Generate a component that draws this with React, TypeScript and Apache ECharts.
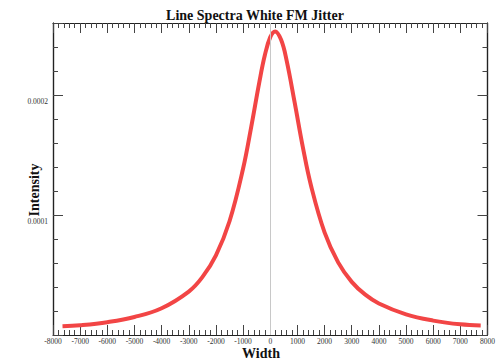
import React, { useEffect, useRef } from "react";
import * as echarts from "echarts";

const titleText = "Line Spectra White FM Jitter";
const xName = "Width";
const yName = "Intensity";

const widths = [
  -7650, -7000, -6000, -5000, -4000, -3000, -2500, -2000, -1500, -1000, -700, -400, -200, 0,
  180, 400, 600, 900, 1200, 1500, 2000, 2500, 3000, 3500, 4000, 5000, 6000, 7000, 7750,
];
const intensity = [
  0.0000072, 0.0000081, 0.0000107, 0.000015, 0.0000223, 0.0000362, 0.0000482, 0.0000664,
  0.0000948, 0.0001387, 0.0001735, 0.000211, 0.0002331, 0.0002482, 0.000253, 0.000246,
  0.0002291, 0.0001936, 0.0001566, 0.0001246, 0.0000855, 0.0000605, 0.0000443, 0.0000336,
  0.0000263, 0.0000172, 0.000012, 0.0000089, 0.000008,
];
const yLabels = ["0.0001", "0.0002"];

const X_MIN = -8000;
const X_MAX = 8000;
const Y_MIN = 0;
const Y_MAX = 0.00026;

export default function App() {
  const ref = useRef<HTMLDivElement>(null);
  useEffect(() => {
    if (!ref.current) return;
    const chart = echarts.init(ref.current, null, { renderer: "svg" });
    const axisColor = "#222";
    const serif = '"Liberation Serif", "DejaVu Serif", serif';
    const xAxisBase = (pos: "bottom" | "top", showLabel: boolean) => ({
      type: "value",
      position: pos,
      min: X_MIN,
      max: X_MAX,
      interval: 1000,
      axisLine: { show: true, onZero: false, lineStyle: { color: axisColor, width: 1.2 } },
      axisTick: { show: true, inside: true, length: 10, lineStyle: { color: "#444" } },
      minorTick: { show: true, splitNumber: 5, length: 5, lineStyle: { color: "#444" } },
      splitLine: { show: false },
      axisLabel: {
        show: showLabel,
        fontSize: 7.5,
        fontFamily: serif,
        color: "#333",
        margin: 2,
        showMinLabel: true,
        showMaxLabel: true,
        hideOverlap: false,
        formatter: (v: number) => String(Math.round(v)),
      },
    });
    const yAxisBase = (pos: "left" | "right", interval: number, len: number, showLabel: boolean) => ({
      type: "value",
      position: pos,
      min: Y_MIN,
      max: Y_MAX,
      interval,
      axisLine: { show: true, onZero: false, lineStyle: { color: axisColor, width: 1.2 } },
      axisTick: { show: true, inside: true, length: len, lineStyle: { color: "#444" } },
      splitLine: { show: false },
      axisLabel: {
        show: showLabel,
        fontSize: 7.5,
        fontFamily: serif,
        color: "#333",
        margin: 5,
        verticalAlign: "top",
        padding: [2, 0, 0, 0],
        formatter: (v: number) => {
          const s = v.toFixed(4);
          return yLabels.includes(s) && Math.abs(v - parseFloat(s)) < 1e-9 ? s : "";
        },
      },
    });
    chart.setOption({
      animation: false,
      backgroundColor: "#ffffff",
      grid: { left: 53, right: 5, top: 23, bottom: 28, containLabel: false },
      xAxis: [xAxisBase("bottom", true), xAxisBase("top", false)],
      yAxis: [
        yAxisBase("left", 0.00002, 5, false),
        yAxisBase("left", 0.0001, 10, true),
        yAxisBase("right", 0.00002, 5, false),
        yAxisBase("right", 0.0001, 10, false),
      ],
      graphic: [
        {
          type: "text",
          x: 255,
          y: 15,
          style: {
            text: titleText,
            fill: "#111",
            font: 'bold 14px "Liberation Serif", serif',
            align: "center",
            verticalAlign: "middle",
          },
        },
        {
          type: "text",
          x: 261,
          y: 353,
          style: {
            text: xName,
            fill: "#111",
            font: 'bold 14px "Liberation Serif", serif',
            align: "center",
            verticalAlign: "middle",
          },
        },
        {
          type: "text",
          x: 34,
          y: 190,
          rotation: Math.PI / 2,
          style: {
            text: yName,
            fill: "#111",
            font: 'bold 14px "Liberation Serif", serif',
            align: "center",
            verticalAlign: "middle",
          },
        },
      ],
      series: [
        {
          type: "line",
          xAxisIndex: 0,
          yAxisIndex: 0,
          data: widths.map((w, i) => [w, intensity[i]]),
          smooth: 0.4,
          showSymbol: false,
          lineStyle: { color: "#f24545", width: 4 },
          markLine: {
            silent: true,
            symbol: ["none", "none"],
            label: { show: false },
            lineStyle: { color: "#c8c8c8", width: 1, type: "solid" },
            data: [{ xAxis: 0 }],
          },
          z: 3,
        },
      ],
    });
    return () => chart.dispose();
  }, []);
  return (
    <div
      ref={ref}
      style={{ position: "fixed", left: 0, top: 0, width: 498, height: 363, background: "#fff" }}
    />
  );
}
